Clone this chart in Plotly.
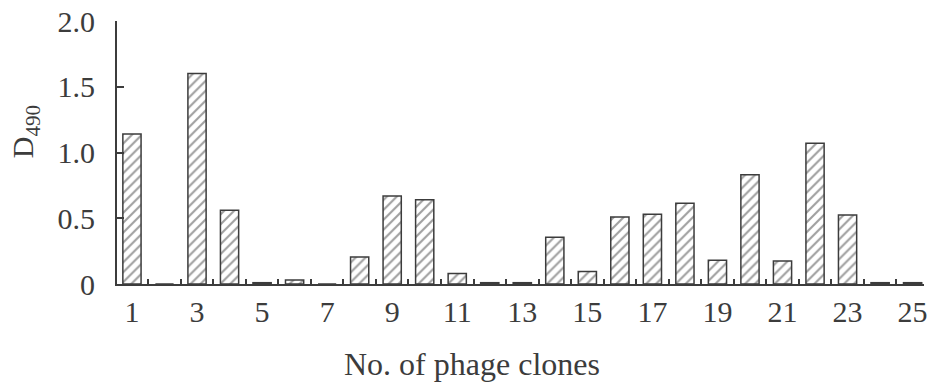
import plotly.graph_objects as go

clones = list(range(1, 26))
d490 = [1.14, 0.0, 1.60, 0.56, 0.01, 0.03, 0.0, 0.205, 0.67, 0.64,
        0.08, 0.01, 0.01, 0.355, 0.095, 0.51, 0.53, 0.615, 0.18, 0.83,
        0.175, 1.07, 0.525, 0.01, 0.01]
x_tick_vals = list(range(1, 26, 2))
x_tick_text = [str(v) for v in x_tick_vals]
y_tick_vals = [0, 0.5, 1.0, 1.5, 2.0]
y_tick_text = ["0", "0.5", "1.0", "1.5", "2.0"]

ink = "#3c3c3c"
font = "Liberation Serif, Times New Roman, serif"

fig = go.Figure()
fig.add_trace(go.Bar(
    x=clones, y=d490, width=0.56,
    marker=dict(
        color="white",
        line=dict(color=ink, width=1.5),
        pattern=dict(shape="/", fgcolor="#404040", bgcolor="white",
                     size=7, solidity=0.3),
    ),
))

fig.update_layout(
    width=929, height=383,
    margin=dict(l=117, r=5, t=21, b=99, autoexpand=False),
    paper_bgcolor="white", plot_bgcolor="white",
    showlegend=False,
    font=dict(family=font, color=ink, size=30),
    xaxis=dict(
        range=[0.54, 25.35], automargin=False,
        tickmode="array", tickvals=x_tick_vals, ticktext=x_tick_text,
        ticks="", showgrid=False, zeroline=False,
        showline=True, linecolor=ink, linewidth=2,
        ticklabelstandoff=0,
        tickfont=dict(family=font, size=30, color=ink),
        minor=dict(tickmode="linear", tick0=0.5, dtick=1, ticks="inside",
                   ticklen=5, tickwidth=1.5, tickcolor=ink, showgrid=False),
    ),
    yaxis=dict(
        range=[0, 2.0], automargin=False,
        tickmode="array", tickvals=y_tick_vals, ticktext=y_tick_text,
        ticks="inside", ticklen=7, tickwidth=1.5, tickcolor=ink,
        showgrid=False, zeroline=False,
        showline=True, linecolor=ink, linewidth=2,
        ticklabelstandoff=14,
        tickfont=dict(family=font, size=30, color=ink),
    ),
    annotations=[
        dict(text="D<sub>490</sub>", textangle=-90, xref="paper", yref="paper",
             x=-0.113, y=0.58, xanchor="center", yanchor="middle",
             showarrow=False, font=dict(family=font, size=30, color=ink)),
        dict(text="No. of phage clones", xref="paper", yref="paper",
             x=0.44, y=-0.228, xanchor="center", yanchor="top",
             showarrow=False, font=dict(family=font, size=32, color=ink)),
    ],
)

fig.write_html(
    "out.html",
    config={"displayModeBar": False},
    post_script="document.body.style.margin='0';document.body.style.overflow='hidden';",
)
